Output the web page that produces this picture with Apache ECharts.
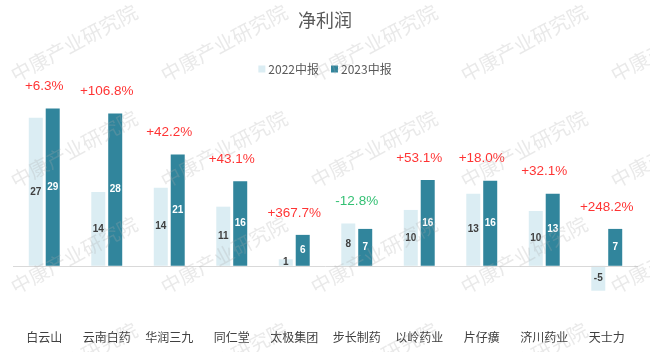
<!DOCTYPE html>
<html lang="zh">
<head>
    <meta charset="utf-8">
    <title>净利润</title>
    <script src="https://cdn.jsdelivr.net/npm/echarts@6/dist/echarts.min.js"></script>
    <style>
        html, body { margin: 0; padding: 0; background: #fff; }
        #main { width: 650px; height: 352px; }
    </style>
</head>
<body>
<div id="main"></div>
<script type="text/javascript">
    // 公司
    var companies = ['白云山', '云南白药', '华润三九', '同仁堂', '太极集团', '步长制药', '以岭药业', '片仔癀', '济川药业', '天士力'];
    // 2022中报 / 2023中报 净利润（亿元）
    var h2022 = [27.3, 13.6, 14.4, 10.9, 1.2, 7.8, 10.3, 13.3, 10.1, -4.6];
    var h2023 = [29.0, 28.1, 20.5, 15.6, 5.7, 6.8, 15.8, 15.7, 13.3, 6.8];
    // 同比增速
    var growth = ['+6.3%', '+106.8%', '+42.2%', '+43.1%', '+367.7%', '-12.8%', '+53.1%', '+18.0%', '+32.1%', '+248.2%'];

    var myChart = echarts.init(document.getElementById('main'));

    var cjk = '"Noto Sans CJK SC", sans-serif';

    // 水印
    var marks = [];
    for (var r = 0; r < 4; r++) {
        for (var c = 0; c < 5; c++) {
            marks.push({
                type: 'text',
                x: 74 + c * 150,
                y: 43 + r * 106,
                rotation: 0.49,
                z: 100,
                silent: true,
                style: {
                    text: '中康产业研究院',
                    x: 0, y: 0,
                    align: 'center',
                    verticalAlign: 'middle',
                    font: '20px ' + cjk,
                    fill: 'rgba(170,170,170,0.26)'
                }
            });
        }
    }

    var tops = companies.map(function (c, i) { return Math.max(h2022[i], h2023[i], 0); });

    var option = {
        animation: false,
        title: {
            text: '净利润',
            left: 'center',
            top: 6,
            textStyle: { fontSize: 18, fontWeight: 'normal', color: '#595959', fontFamily: cjk }
        },
        legend: {
            data: ['2022中报', '2023中报'],
            top: 58,
            left: 'center',
            icon: 'rect',
            itemWidth: 7,
            itemHeight: 7,
            itemGap: 12,
            textStyle: { fontSize: 12, color: '#595959', fontFamily: cjk, padding: [0, 0, 0, -2] }
        },
        grid: { left: 13, right: 12, top: 76, bottom: 32 },
        xAxis: {
            type: 'category',
            data: companies,
            axisLine: { show: false, onZero: false },
            axisTick: { show: false },
            axisLabel: { margin: 11, fontSize: 12, color: '#404040', fontFamily: cjk, interval: 0 }
        },
        yAxis: {
            type: 'value',
            min: -10,
            max: 35,
            show: false,
            splitLine: { show: false }
        },
        graphic: marks,
        series: [
            {
                name: '2022中报',
                type: 'bar',
                barWidth: 14,
                barGap: '21%',
                itemStyle: { color: '#dbedf3' },
                label: {
                    show: true,
                    position: 'inside',
                    fontSize: 10,
                    fontWeight: 'bold',
                    color: '#404040',
                    fontFamily: 'Liberation Sans, sans-serif',
                    formatter: function (p) { return Math.round(p.value); }
                },
                markLine: {
                    silent: true,
                    symbol: 'none',
                    label: { show: false },
                    lineStyle: { color: '#d9d9d9', width: 1, type: 'solid' },
                    data: [{ yAxis: 0 }]
                },
                data: h2022
            },
            {
                name: '2023中报',
                type: 'bar',
                barWidth: 14,
                itemStyle: { color: '#31859c' },
                label: {
                    show: true,
                    position: 'inside',
                    fontSize: 10,
                    fontWeight: 'bold',
                    color: '#ffffff',
                    fontFamily: 'Liberation Sans, sans-serif',
                    formatter: function (p) { return Math.round(p.value); }
                },
                data: h2023
            },
            {
                name: '增速',
                type: 'scatter',
                symbolSize: 0,
                silent: true,
                label: {
                    show: true,
                    position: 'top',
                    distance: 15,
                    fontSize: 13.5,
                    fontFamily: 'Liberation Sans, sans-serif',
                    formatter: function (p) { return growth[p.dataIndex]; },
                    color: '#ff0000'
                },
                data: tops.map(function (v, i) {
                    return growth[i].charAt(0) === '-'
                        ? { value: v, label: { color: '#00b050' } }
                        : v;
                })
            }
        ]
    };

    myChart.setOption(option);
</script>
</body>
</html>
